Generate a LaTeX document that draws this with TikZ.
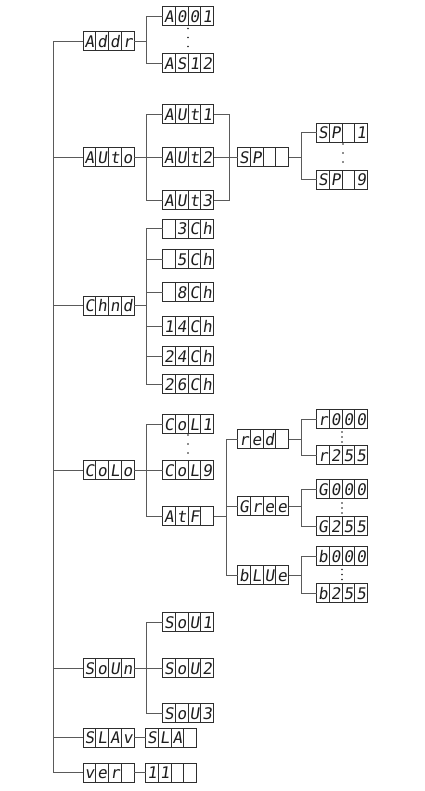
\documentclass[tikz,border=0pt]{standalone}
\usepackage{fontspec}
\newfontfamily\segfont[FakeSlant=0.15]{DejaVu Sans Mono}
\usetikzlibrary{calc}
\definecolor{boxc}{HTML}{2E2E2E}
\definecolor{segc}{HTML}{1E1E1E}
\definecolor{linec}{HTML}{5A5A5A}
\tikzset{
  dispbox/.style={draw=boxc, line width=0.9pt, minimum width=51pt, minimum height=19pt, inner sep=0pt, outer sep=0pt, fill=white},
  cellsep/.style={draw=boxc, line width=0.6pt},
  segchar/.style={font=\segfont\fontsize{16}{16}\selectfont, text=segc, inner sep=0pt, anchor=base},
  conn/.style={draw=linec, line width=0.9pt},
  dotmark/.style={fill=segc, draw=none}
}
\newcommand\dispnode[6]{%
  \node[dispbox] (#1) at (#2) {};
  \foreach \i in {1,2,3} {\draw[cellsep] ($(#1.south west)+(\i*12.75pt,0pt)$) -- ($(#1.north west)+(\i*12.75pt,0pt)$);}
  \node[segchar] at ($(#1.south west)+(6.375pt,3.4pt)$) {#3};
  \node[segchar] at ($(#1.south west)+(19.125pt,3.4pt)$) {#4};
  \node[segchar] at ($(#1.south west)+(31.875pt,3.4pt)$) {#5};
  \node[segchar] at ($(#1.south west)+(44.625pt,3.4pt)$) {#6};
}
\newcommand\threedots[4]{%
  \foreach \yy in {#2,#3,#4} {\fill[dotmark] (#1,\yy) circle (0.9pt);}
}
\begin{document}
\begin{tikzpicture}[x=1pt,y=-1pt]
\useasboundingbox[fill=white] (0,0) rectangle (424,791);
% main level
\dispnode{addr}{108.5,41}{A}{d}{d}{r}
\dispnode{auto}{108.5,157}{A}{U}{t}{o}
\dispnode{chnd}{108.5,305.5}{C}{h}{n}{d}
\dispnode{colo}{108.5,470}{C}{o}{L}{o}
\dispnode{soun}{108.5,668}{S}{o}{U}{n}
\dispnode{slav}{108.5,737.5}{S}{L}{A}{v}
\dispnode{ver}{108.5,772.5}{v}{e}{r}{}
% Addr
\dispnode{a001}{188,16}{A}{0}{0}{1}
\dispnode{as12}{188,63}{A}{S}{1}{2}
% Auto
\dispnode{aut1}{188,114}{A}{U}{t}{1}
\dispnode{aut2}{188,157}{A}{U}{t}{2}
\dispnode{aut3}{188,200}{A}{U}{t}{3}
\dispnode{sp}{263,157}{S}{P}{}{}
\dispnode{sp1}{342,132.5}{S}{P}{}{1}
\dispnode{sp9}{342,179.5}{S}{P}{}{9}
% Chnd
\dispnode{ch3}{188,228.5}{}{3}{C}{h}
\dispnode{ch5}{188,259}{}{5}{C}{h}
\dispnode{ch8}{188,292}{}{8}{C}{h}
\dispnode{ch14}{188,326}{1}{4}{C}{h}
\dispnode{ch24}{188,356}{2}{4}{C}{h}
\dispnode{ch26}{188,384}{2}{6}{C}{h}
% Colo
\dispnode{col1}{188,424}{C}{o}{L}{1}
\dispnode{col9}{188,470}{C}{o}{L}{9}
\dispnode{atf}{188,516}{A}{t}{F}{}
\dispnode{red}{263,439}{r}{e}{d}{}
\dispnode{r000}{342,419}{r}{0}{0}{0}
\dispnode{r255}{342,455}{r}{2}{5}{5}
\dispnode{gree}{263,506}{G}{r}{e}{e}
\dispnode{g000}{342,489}{G}{0}{0}{0}
\dispnode{g255}{342,526}{G}{2}{5}{5}
\dispnode{blue}{263,575}{b}{L}{U}{e}
\dispnode{b000}{342,556}{b}{0}{0}{0}
\dispnode{b255}{342,593}{b}{2}{5}{5}
% SoUn
\dispnode{sou1}{188,622}{S}{o}{U}{1}
\dispnode{sou2}{188,668}{S}{o}{U}{2}
\dispnode{sou3}{188,713}{S}{o}{U}{3}
% SLAv, vEr
\dispnode{sla}{171,737.5}{S}{L}{A}{}
\dispnode{vnum}{171,772.5}{1}{1}{}{}
% spine
\draw[conn] (addr.west) -- ++(-30,0) |- (ver.west);
\foreach \n in {auto,chnd,colo,soun,slav} {\draw[conn] (\n.west) -- ++(-30,0);}
% Addr branch
\draw[conn] (addr.east) -- ++(12,0);
\draw[conn] (a001.west) -- ++(-16.5,0) |- (as12.west);
% Auto branch
\draw[conn] (auto.east) -- (aut2.west);
\draw[conn] (aut1.west) -- ++(-16.5,0) |- (aut3.west);
\draw[conn] (aut1.east) -- ++(16,0) |- (aut3.east);
\draw[conn] (aut2.east) -- (sp.west);
\draw[conn] (sp.east) -- ++(13,0);
\draw[conn] (sp1.west) -- ++(-15.5,0) |- (sp9.west);
% Chnd branch
\draw[conn] (chnd.east) -- ++(12,0);
\draw[conn] (ch3.west) -- ++(-16.5,0) |- (ch26.west);
\foreach \n in {ch5,ch8,ch14,ch24} {\draw[conn] (\n.west) -- ++(-16.5,0);}
% Colo branch
\draw[conn] (colo.east) -- (col9.west);
\draw[conn] (col1.west) -- ++(-16.5,0) |- (atf.west);
\draw[conn] (atf.east) -- ++(12.5,0);
\draw[conn] (red.west) -- ++(-11.5,0) |- (blue.west);
\draw[conn] (gree.west) -- ++(-11.5,0);
\draw[conn] (red.east) -- ++(13,0);
\draw[conn] (r000.west) -- ++(-15.5,0) |- (r255.west);
\draw[conn] (gree.east) -- ++(13,0);
\draw[conn] (g000.west) -- ++(-15.5,0) |- (g255.west);
\draw[conn] (blue.east) -- ++(13,0);
\draw[conn] (b000.west) -- ++(-15.5,0) |- (b255.west);
% SoUn branch
\draw[conn] (soun.east) -- (sou2.west);
\draw[conn] (sou1.west) -- ++(-16.5,0) |- (sou3.west);
% SLAv, vEr
\draw[conn] (slav.east) -- (sla.west);
\draw[conn] (ver.east) -- (vnum.west);
% ellipsis dots
\threedots{188}{28.5}{37.5}{46.5}
\threedots{343}{144}{153}{162}
\threedots{188}{435}{444}{453}
\threedots{342}{432}{437}{442}
\threedots{342}{503}{508}{513}
\threedots{342}{569.5}{574.5}{579.5}
\end{tikzpicture}
\end{document}
